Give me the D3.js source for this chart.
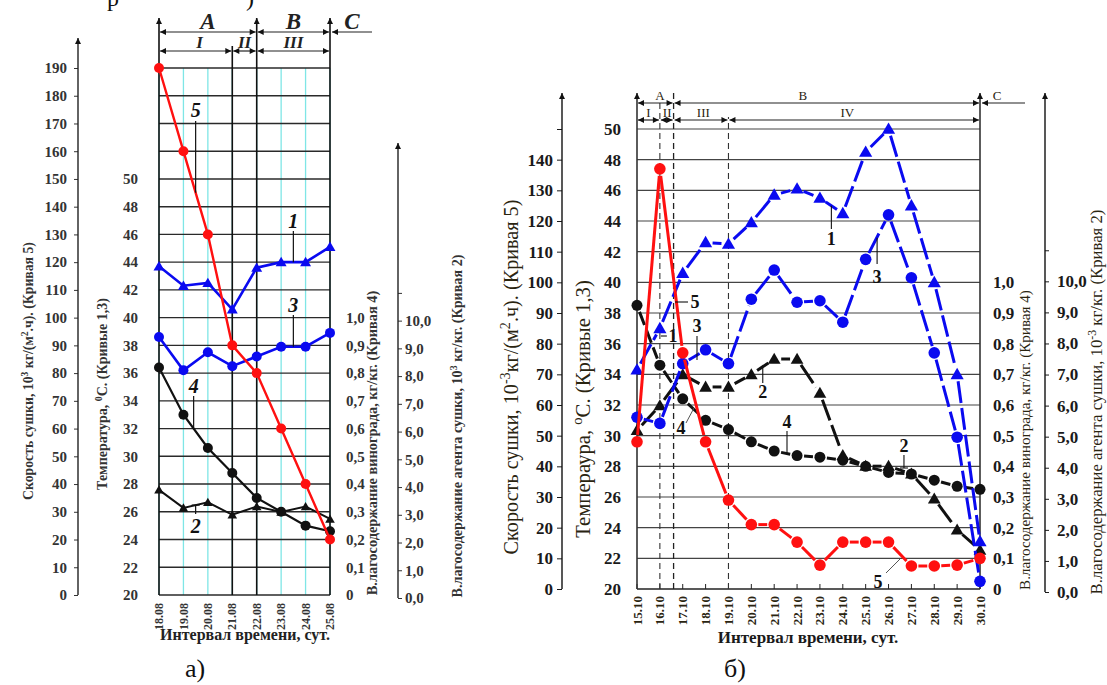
<!DOCTYPE html>
<html>
<head>
<meta charset="utf-8">
<script src="https://cdn.jsdelivr.net/npm/d3@7"></script>
<style>
  body { margin: 0; background: #fff; }
  svg { display: block; }
</style>
</head>
<body>
<svg id="chart" width="1107" height="685"></svg>
<script>
// ---- panel а) : 18.08 – 25.08 ----
const datesA = ["18.08", "19.08", "20.08", "21.08", "22.08", "23.08", "24.08", "25.08"];
const speedA = [190, 160, 130, 90, 80, 60, 40, 20];                      // curve 5
const tempAirA = [43.7, 42.3, 42.5, 40.6, 43.6, 44.0, 44.0, 45.1];        // curve 1
const tempGrapeA = [38.6, 36.2, 37.5, 36.5, 37.2, 37.9, 37.9, 38.9];      // curve 3
const moistGrapeA = [0.82, 0.65, 0.53, 0.44, 0.35, 0.30, 0.25, 0.23];     // curve 4
const moistAgentA = [3.9, 3.25, 3.45, 3.0, 3.3, 3.1, 3.3, 2.85];          // curve 2

// ---- panel б) : 15.10 – 30.10 ----
const datesB = ["15.10", "16.10", "17.10", "18.10", "19.10", "20.10", "21.10", "22.10",
                "23.10", "24.10", "25.10", "26.10", "27.10", "28.10", "29.10", "30.10"];
const speedB = [48, 137, 77, 48, 29, 21, 21, 15.3, 7.8, 15.3, 15.3, 15.3, 7.5, 7.5, 7.8, 10];
const tempAirB = [34.3, 37.0, 40.6, 42.6, 42.5, 43.9, 45.7, 46.1, 45.5, 44.5, 48.5, 50.0, 45.0, 40.0, 34.0, 23.1];
const tempGrapeB = [31.2, 30.8, 34.7, 35.6, 34.7, 38.9, 40.8, 38.7, 38.8, 37.4, 41.5, 44.4, 40.3, 35.4, 29.9, 20.5];
const moistGrapeB = [0.925, 0.73, 0.62, 0.55, 0.52, 0.48, 0.45, 0.435, 0.43, 0.42, 0.40, 0.38, 0.375, 0.355, 0.335, 0.325];
const moistAgentB = [5.2, 6.0, 7.0, 6.6, 6.6, 7.0, 7.5, 7.5, 6.4, 4.4, 4.05, 4.05, 3.8, 3.0, 2.0, 1.35];

// tick values
const speedTicksA = d3.range(0, 191, 10);
const speedTicksB = d3.range(0, 151, 10);
const tempTicks = d3.range(20, 51, 2);
const grapeTicks = d3.range(0, 11).map(d => d / 10);
const agentTicks = d3.range(0, 12);

// periods (in date-index units)
const stagesA = [{ t: "A", a: 0, b: 4 }, { t: "B", a: 4, b: 7 }];
const periodsA = [{ t: "I", a: 0, b: 3 }, { t: "II", a: 3, b: 4 }, { t: "III", a: 4, b: 7 }];
const stagesB = [{ t: "A", a: 0, b: 1.6, at: 1 }, { t: "B", a: 1.6, b: 15, at: 7.25 }];
const periodsB = [{ t: "I", a: 0, b: 1, at: 0.5 }, { t: "II", a: 1, b: 1.6, at: 1.32 },
                  { t: "III", a: 1.6, b: 4, at: 2.9 }, { t: "IV", a: 4, b: 15, at: 9.2 }];

const RED = "#ff1010", BLUE = "#0a0af0", BLACK = "#111";
const SERIF = "Liberation Serif";
const comma = v => d3.format(".1f")(v).replace(".", ",");

const svg = d3.select("#chart").attr("font-family", SERIF);
svg.append("rect").attr("width", 1107).attr("height", 685).attr("fill", "#fff");
svg.append("defs").append("marker")
  .attr("id", "arr").attr("viewBox", "0 0 10 10").attr("refX", 10).attr("refY", 5)
  .attr("markerWidth", 7).attr("markerHeight", 6).attr("markerUnits", "userSpaceOnUse")
  .attr("orient", "auto-start-reverse")
  .append("path").attr("d", "M0,0L10,5L0,10z").attr("fill", "#111");

function line(g, x1, y1, x2, y2, stroke, w, extra) {
  const l = g.append("line").attr("x1", x1).attr("y1", y1).attr("x2", x2).attr("y2", y2)
    .attr("stroke", stroke).attr("stroke-width", w);
  if (extra) Object.entries(extra).forEach(([k, v]) => l.attr(k, v));
  return l;
}

function text(g, x, y, s, size, opts = {}) {
  return g.append("text").attr("x", x).attr("y", y).text(s)
    .attr("font-family", SERIF)
    .attr("font-size", size).attr("text-anchor", opts.anchor || "middle")
    .attr("font-weight", opts.weight || "normal").attr("font-style", opts.style || "normal")
    .attr("fill", opts.fill || "#111");
}

function vLabel(x, cy, parts, target, bold, fill) {
  const t = svg.append("text")
    .attr("transform", `translate(${x},${cy}) rotate(-90)`)
    .attr("font-family", SERIF)
    .attr("text-anchor", "middle").attr("font-size", 14)
    .attr("font-weight", bold ? "bold" : "normal").attr("fill", fill);
  let prevSup = false;
  parts.forEach(p => {
    const sup = typeof p !== "string";
    const s = t.append("tspan").text(sup ? p.sup : p);
    if (sup) s.attr("font-size", "0.7em").attr("dy", "-0.55em");
    else if (prevSup) s.attr("dy", "0.385em");
    prevSup = sup;
  });
  const len = t.node().getComputedTextLength();
  t.attr("font-size", 14 * target / len);
}

function styleAxis(ax, size, fill, weight) {
  ax.select(".domain").remove();
  ax.attr("font-family", SERIF).attr("font-size", null);
  ax.selectAll("text").attr("font-family", SERIF).attr("font-size", size)
    .attr("fill", fill).attr("font-weight", weight);
  ax.selectAll(".tick line").attr("stroke", fill);
}

function markers(g, pts, shape, color, size) {
  if (shape === "circle") {
    g.selectAll(null).data(pts).join("circle")
      .attr("cx", d => d[0]).attr("cy", d => d[1]).attr("r", size).attr("fill", color);
  } else {
    g.selectAll(null).data(pts).join("path")
      .attr("d", d3.symbol(d3.symbolTriangle, size))
      .attr("transform", d => `translate(${d[0]},${d[1] + 1})`).attr("fill", color);
  }
}

function gapped(g, pts, color, width, dash, gap) {
  d3.pairs(pts).forEach(([a, b]) => {
    const dx = b[0] - a[0], dy = b[1] - a[1], len = Math.hypot(dx, dy);
    if (len <= gap * 2) return;
    const ux = dx / len, uy = dy / len;
    line(g, a[0] + ux * gap, a[1] + uy * gap, b[0] - ux * gap, b[1] - uy * gap, color, width,
      dash ? { "stroke-dasharray": dash } : null);
  });
}

function header(g, x, y, items) {
  items.forEach(s => line(g, x(s.a) + 1, y, x(s.b) - 1, y, "#222", 1.2,
    { "marker-start": "url(#arr)", "marker-end": "url(#arr)" }));
}

// =================== PANEL а) ===================
const gA = svg.append("g");
const xA = d3.scaleLinear().domain([0, datesA.length - 1]).range([159, 330]);
const ySpA = d3.scaleLinear().domain([0, 190]).range([595, 68]);
const yTA = d3.scaleLinear().domain([20, 58]).range([595, 68]);
const yGA = d3.scaleLinear().domain([0, 1.9]).range([595, 68]);
const yAgA = d3.scaleLinear().domain([0, 19]).range([598, 71]);

datesA.forEach((d, i) => line(gA, xA(i), ySpA(190), xA(i), ySpA(0), "#7fe6e6", 1.3));
speedTicksA.forEach(v => line(gA, xA(0), ySpA(v), xA(7), ySpA(v), "#2a2a2a", 1.4));
[0, 4, 7].forEach(i => line(gA, xA(i), ySpA(0), xA(i), 18, "#111", 1.6, { "marker-end": "url(#arr)" }));
line(gA, xA(3), ySpA(0), xA(3), 46, "#111", 1.6);

header(gA, xA, 32, stagesA);
header(gA, xA, 51, periodsA);
line(gA, xA(7) + 2, 32, 372, 32, "#222", 1.2, { "marker-start": "url(#arr)" });
stagesA.forEach(s => text(gA, (xA(s.a) + xA(s.b)) / 2, 29, s.t, 23, { weight: "bold", style: "italic", fill: "#222" }));
text(gA, 352, 29, "C", 23, { weight: "bold", style: "italic", fill: "#222" });
periodsA.forEach(s => text(gA, (xA(s.a) + xA(s.b)) / 2 + (s.t === "I" ? 4 : 0), 48, s.t, 17,
  { weight: "bold", style: "italic", fill: "#222" }));

// axes
const axSpA = gA.append("g").attr("transform", "translate(78,0)")
  .call(d3.axisLeft(ySpA).tickValues(speedTicksA).tickSize(4).tickPadding(7).tickFormat(d3.format("d")));
styleAxis(axSpA, 15, "#333", "bold");
line(gA, 78, ySpA(0), 78, 38, "#222", 1.4, { "marker-end": "url(#arr)" });

const axTA = gA.append("g").attr("transform", "translate(159,0)")
  .call(d3.axisLeft(yTA).tickValues(tempTicks).tickSize(0).tickPadding(21));
styleAxis(axTA, 15, "#333", "bold");

const axGA = gA.append("g").attr("transform", "translate(330,0)")
  .call(d3.axisRight(yGA).tickValues(grapeTicks).tickSize(0).tickPadding(16)
    .tickFormat(v => v === 0 ? "0" : comma(v)));
styleAxis(axGA, 15, "#333", "bold");

const axAgA = gA.append("g").attr("transform", "translate(398,0)")
  .call(d3.axisRight(yAgA).tickValues(agentTicks).tickSize(4).tickPadding(3)
    .tickFormat(v => v <= 10 ? comma(v) : ""));
styleAxis(axAgA, 15, "#333", "bold");
line(gA, 398, yAgA(0), 398, 143, "#222", 1.4, { "marker-end": "url(#arr)" });

// x labels
datesA.forEach((d, i) => gA.append("text")
  .attr("transform", `translate(${xA(i)},603) rotate(-90)`).attr("dy", "0.35em")
  .attr("font-family", SERIF)
  .attr("text-anchor", "end").attr("font-size", 12).attr("font-weight", "bold")
  .attr("fill", "#333").text(d));

// series
const lnA = d3.line();
const seriesA = [
  { v: moistAgentA, y: yAgA, c: BLACK, w: 2, m: "tri", s: 40 },
  { v: moistGrapeA, y: yGA, c: BLACK, w: 2.2, m: "circle", s: 5 },
  { v: tempGrapeA, y: yTA, c: BLUE, w: 2.6, m: "circle", s: 5 },
  { v: tempAirA, y: yTA, c: BLUE, w: 2.6, m: "tri", s: 52 },
  { v: speedA, y: ySpA, c: RED, w: 2.4, m: "circle", s: 5 }
];
seriesA.forEach(s => {
  const pts = s.v.map((v, i) => [xA(i), s.y(v)]);
  gA.append("path").attr("d", lnA(pts)).attr("fill", "none").attr("stroke", s.c).attr("stroke-width", s.w);
  markers(gA, pts, s.m, s.c, s.s);
});

// curve numbers
const annA = { weight: "bold", style: "italic", fill: "#111" };
const midA = (i) => (xA(i) + xA(i + 1)) / 2;
text(gA, midA(1), 117, "5", 20, annA);
line(gA, midA(1), 121, midA(1), ySpA((speedA[1] + speedA[2]) / 2), "#111", 1.2);
text(gA, midA(5), 228, "1", 20, annA);
line(gA, midA(5), 231, midA(5), yTA(44), "#111", 1.2);
text(gA, midA(5), 312, "3", 20, annA);
line(gA, midA(5), 315, midA(5), yTA(37.9), "#111", 1.2);
text(gA, midA(1) - 2, 393, "4", 20, annA);
line(gA, midA(1) - 2, 396, midA(1) - 2, yGA((moistGrapeA[1] + moistGrapeA[2]) / 2) - 2, "#111", 1.2);
text(gA, midA(1), 533, "2", 20, annA);
line(gA, midA(1), yAgA(3.35), midA(1), 514, "#111", 1.2);
line(gA, midA(1) - 4, yAgA(3.35), midA(1) + 4, yAgA(3.35), "#111", 1.2);

text(svg, 245, 640, "Интервал времени, сут.", 16, { weight: "bold", fill: "#222" });
text(svg, 195, 677, "а)", 26, { fill: "#111" });
text(svg, 113, 6, "р", 24, { fill: "#111" });
text(svg, 250, 6, ")", 24, { fill: "#111" });

vLabel(33, 371, ["Скорость сушки, 10", { sup: "3" }, " кг/(м", { sup: "2" }, ".ч). (Кривая 5)"], 258, true, "#333");
vLabel(107, 394, ["Температура, ", { sup: "0" }, "С. (Кривые 1,3)"], 192, true, "#333");
vLabel(377, 443, ["В.лагосодержание винограда, кг/кг. (Кривая 4)"], 305, true, "#333");
vLabel(462, 426, ["В.лагосодержание агента сушки, 10", { sup: "3" }, " кг/кг. (Кривая 2)"], 343, true, "#333");

// =================== PANEL б) ===================
const gB = svg.append("g");
const xB = d3.scaleLinear().domain([0, datesB.length - 1]).range([637, 980]);
const yTB = d3.scaleLinear().domain([20, 50]).range([589, 129]);
const ySpB = d3.scaleLinear().domain([0, 150]).range([589, 129]);
const yGB = d3.scaleLinear().domain([0, 1.5]).range([589, 129]);
const yAgB = d3.scaleLinear().domain([0, 15]).range([592, 126]);

tempTicks.forEach(v => line(gB, xB(0), yTB(v), xB(15), yTB(v), v === 20 ? "#222" : "#444", v === 20 ? 1.6 : 1.2));
datesB.forEach((d, i) => line(gB, xB(i), yTB(20), xB(i), yTB(20) - 5, "#222", 1));
[0, 15].forEach(i => line(gB, xB(i), yTB(20), xB(i), 93, "#333", 1.6, { "marker-end": "url(#arr)" }));
line(gB, xB(1), yTB(20), xB(1), 103, "#333", 1.1, { "stroke-dasharray": "6,4" });
line(gB, xB(1.6), yTB(20), xB(1.6), 93, "#222", 1.3, { "stroke-dasharray": "6,4" });
line(gB, xB(4), yTB(20), xB(4), 117, "#333", 1.1, { "stroke-dasharray": "6,4" });

header(gB, xB, 103, stagesB);
header(gB, xB, 120, periodsB);
line(gB, xB(15) + 2, 103, 1025, 103, "#222", 1.2, { "marker-start": "url(#arr)" });
const hdB = { fill: "#2a2410" };
stagesB.forEach(s => text(gB, xB(s.at), 100, s.t, 13, hdB));
text(gB, 997, 100, "C", 13, hdB);
periodsB.forEach(s => text(gB, xB(s.at), 117, s.t, 13, hdB));

const axSpB = gB.append("g").attr("transform", "translate(562,0)")
  .call(d3.axisLeft(ySpB).tickValues(speedTicksB).tickSize(5).tickPadding(4)
    .tickFormat(v => v <= 140 ? d3.format("d")(v) : ""));
styleAxis(axSpB, 17, "#1a1a1a", "bold");
line(gB, 562, ySpB(0), 562, 93, "#111", 1.4, { "marker-end": "url(#arr)" });

const axTB = gB.append("g").attr("transform", "translate(637,0)")
  .call(d3.axisLeft(yTB).tickValues(tempTicks).tickSize(0).tickPadding(16));
styleAxis(axTB, 17, "#1a1a1a", "bold");

const axGB = gB.append("g").attr("transform", "translate(980,0)")
  .call(d3.axisRight(yGB).tickValues(grapeTicks).tickSize(0).tickPadding(13)
    .tickFormat(v => v === 0 ? "0" : comma(v)));
styleAxis(axGB, 17, "#1a1a1a", "bold");

const axAgB = gB.append("g").attr("transform", "translate(1045,0)")
  .call(d3.axisRight(yAgB).tickValues(agentTicks).tickSize(4).tickPadding(8)
    .tickFormat(v => v <= 10 ? comma(v) : ""));
styleAxis(axAgB, 17, "#1a1a1a", "bold");
line(gB, 1045, yAgB(0), 1045, 93, "#111", 1.4, { "marker-end": "url(#arr)" });

datesB.forEach((d, i) => gB.append("text")
  .attr("transform", `translate(${xB(i)},596) rotate(-90)`).attr("dy", "0.35em")
  .attr("font-family", SERIF)
  .attr("text-anchor", "end").attr("font-size", 13).attr("font-weight", "bold")
  .attr("fill", "#2a2410").text(d));

const seriesB = [
  { v: moistAgentB, y: yAgB, c: BLACK, dash: "22,5", m: "tri", s: 70 },
  { v: moistGrapeB, y: yGB, c: BLACK, dash: "14,5", m: "circle", s: 5.5 },
  { v: tempGrapeB, y: yTB, c: BLUE, dash: "22,5", m: "circle", s: 5.8 },
  { v: tempAirB, y: yTB, c: BLUE, dash: "22,5", m: "tri", s: 75 },
  { v: speedB, y: ySpB, c: RED, dash: null, m: "circle", s: 5.8 }
];
seriesB.forEach(s => {
  const pts = s.v.map((v, i) => [xB(i), s.y(v)]);
  gapped(gB, pts, s.c, 3, s.dash, 7);
  markers(gB, pts, s.m, s.c, s.s);
});

// curve numbers
const annB = { weight: "bold", fill: "#111" };
const midB = (i) => (xB(i) + xB(i + 1)) / 2;
text(gB, midB(8), 245, "1", 18, annB);
line(gB, midB(8), yTB(45.0), midB(8), 229, "#111", 1.1);
text(gB, midB(10), 283, "3", 18, annB);
line(gB, midB(10), yTB(42.9), midB(10), 264, "#111", 1.1);
line(gB, 675, 302, 688, 302, "#111", 1.1);
text(gB, 695, 308, "5", 18, annB);
text(gB, 697, 332, "3", 18, annB);
line(gB, 697, 336, 697, 360, "#111", 1.1);
line(gB, xB(1) + 1, 336, xB(1) + 7, 336, "#111", 1.1);
text(gB, 673, 342, "1", 18, annB);
text(gB, midB(5), 398, "2", 18, annB);
line(gB, midB(5), 368, midB(5), 383, "#111", 1.1);
text(gB, 787, 428, "4", 18, annB);
line(gB, 787, 431, 787, yGB(0.443), "#111", 1.1);
text(gB, 681, 434, "4", 18, annB);
line(gB, 686, 423, 694, 408, "#555", 1);
text(gB, midB(11) + 4, 452, "2", 18, annB);
line(gB, midB(11) + 4, 455, midB(11) + 4, 468, "#111", 1.1);
line(gB, midB(11), 468, midB(11) + 8, 468, "#111", 1.1);
text(gB, 878, 588, "5", 18, annB);
line(gB, 886, 573, 900, 559, "#555", 1);

text(svg, 808, 643, "Интервал времени, сут.", 17, { weight: "bold", fill: "#1a1a1a" });
text(svg, 735, 677, "б)", 26, { fill: "#111" });

vLabel(518, 377, ["Скорость сушки, 10", { sup: "-3" }, "кг/(м", { sup: "2" }, ".ч). (Кривая 5)"], 355, false, "#2a2410");
vLabel(590, 409, ["Темпераура, ", { sup: "o" }, "С. (Кривые 1,3)"], 258, false, "#2a2410");
vLabel(1030, 440, ["В.лагосодержание винограда, кг/кг. (Кривая 4)"], 300, false, "#2a2410");
vLabel(1102, 402, ["В.лагосодержание агента сушки, 10", { sup: "-3" }, " кг/кг. (Кривая 2)"], 385, false, "#2a2410");
</script>
</body>
</html>
